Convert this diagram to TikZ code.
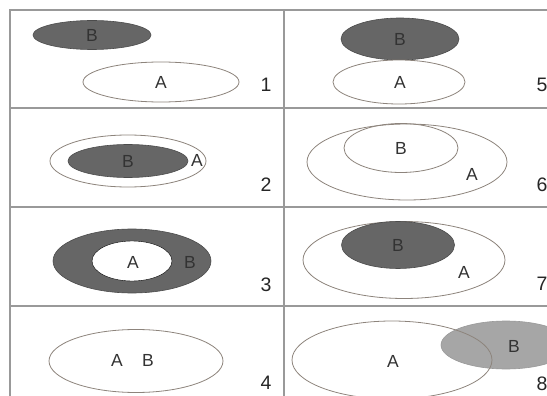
\documentclass[tikz,border=0pt]{standalone}
\usepackage{fontspec}
\setmainfont{Liberation Sans}
\usetikzlibrary{positioning}

\begin{document}
\begin{tikzpicture}[x=1pt,y=-1pt]
\tikzstyle{grid}=[draw=black!40, line width=1.3pt]
\tikzstyle{setA}=[draw=brown!25!black!55, line width=0.8pt]
\tikzstyle{setB}=[draw=black!70, fill=black!60, line width=0.6pt]
\tikzstyle{setBlight}=[draw=black!40, fill=black!35, line width=0.6pt]
\tikzstyle{hole}=[fill=white]
\tikzstyle{lbl}=[font=\fontsize{17.5}{17.5}\selectfont, text=black!80, inner sep=0pt]
\tikzstyle{num}=[font=\fontsize{19.5}{19.5}\selectfont, text=black!85, inner sep=0pt]

\useasboundingbox (0,0) rectangle (547,396);

% table lines
\draw[grid] (547,10) -- (10,10) -- (10,396)
            (284,10) -- (284,396)
            (10,108) -- (547,108)
            (10,207) -- (547,207)
            (10,306) -- (547,306);

% 1: disjoint
\draw[setB] (92,35) ellipse (59pt and 14.5pt);
\draw[setA, fill=white] (161,82) ellipse (78pt and 20pt);
\node[lbl] (b1) at (92,35) {B};
\node[lbl] (a1) at (161,82) {A};
\node[num] (n1) at (266,85) {1};

% 2: B inside A
\draw[setA, fill=white] (128,161) ellipse (78pt and 26pt);
\draw[setB] (128,161) ellipse (60pt and 16.5pt);
\node[lbl] (b2) at (128,161) {B};
\node[lbl] (a2) at (197,160) {A};
\node[num] (n2) at (266,185) {2};

% 3: A inside B
\draw[setB] (132,261) ellipse (79pt and 32pt);
\draw[hole] (132,261) ellipse (40pt and 20pt);
\node[lbl] (a3) at (133,262) {A};
\node[lbl] (b3) at (190,262) {B};
\node[num] (n3) at (266,285) {3};

% 4: A equals B
\draw[setA, fill=white] (136,361) ellipse (87pt and 31.5pt);
\node[lbl] (a4) at (117,360) {A};
\node[lbl, right=31pt of a4.center, anchor=center] (b4) {B};
\node[num] (n4) at (266,383) {4};

% 5: touching
\draw[setB] (400,39) ellipse (59pt and 21pt);
\draw[setA, fill=white] (399,82) ellipse (66pt and 22pt);
\node[lbl] (b5) at (400,39) {B};
\node[lbl] (a5) at (400,82) {A};
\node[num] (n5) at (542,85) {5};

% 6: B inside A, both open
\draw[setA, fill=white] (407,162) ellipse (100pt and 38pt);
\draw[setA] (401,148) ellipse (57pt and 24.5pt);
\node[lbl] (b6) at (401,148) {B};
\node[lbl] (a6) at (472,174) {A};
\node[num] (n6) at (542,185) {6};

% 7: B inside A, touching the rim
\draw[setA, fill=white] (404,260) ellipse (101pt and 38.5pt);
\draw[setB] (398,245) ellipse (56.5pt and 23.5pt);
\node[lbl] (b7) at (398,245) {B};
\node[lbl] (a7) at (464,272) {A};
\node[num] (n7) at (542,284) {7};

% 8: overlapping
\draw[setBlight] (506,345) ellipse (65pt and 24pt);
\draw[setA] (392,360) ellipse (100pt and 39pt);
\node[lbl] (a8) at (393,361) {A};
\node[lbl] (b8) at (514,346) {B};
\node[num] (n8) at (542,384) {8};
\end{tikzpicture}
\end{document}
